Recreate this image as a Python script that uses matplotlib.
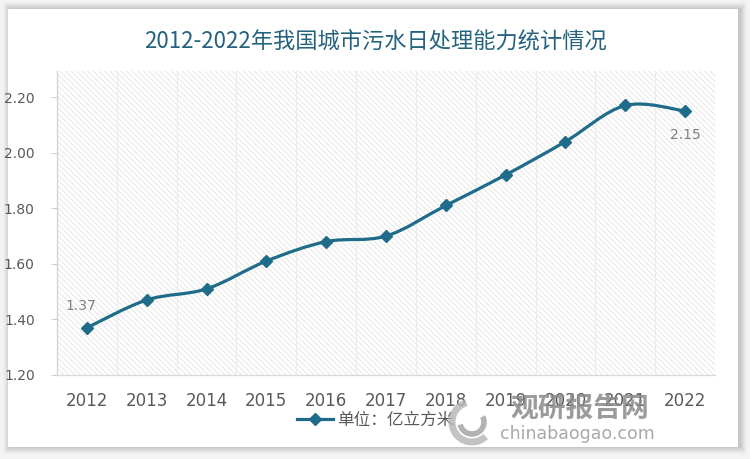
import numpy as np
import matplotlib
matplotlib.use("Agg")
import matplotlib.pyplot as plt
from matplotlib.path import Path
from matplotlib.patches import PathPatch, Rectangle, Arc
from matplotlib.lines import Line2D

years = [2012, 2013, 2014, 2015, 2016, 2017, 2018, 2019, 2020, 2021, 2022]
capacity = [1.37, 1.47, 1.51, 1.61, 1.68, 1.70, 1.81, 1.92, 2.04, 2.17, 2.15]
y_ticks = [1.20, 1.40, 1.60, 1.80, 2.00, 2.20]
title = "2012-2022年我国城市污水日处理能力统计情况"
legend_label = "单位：亿立方米"

line_color = "#1f6b8a"
cjk = ["Noto Sans CJK SC", "DejaVu Sans"]
plt.rcParams["font.family"] = cjk
plt.rcParams["hatch.linewidth"] = 0.6

W, H = 750, 459
fig = plt.figure(figsize=(7.5, 4.59), dpi=100, facecolor="#f3f3f3")

# card with soft shadow
x0, y0, x1, y1 = 8, 9, 738, 447
for k, a in zip(range(7, 0, -1), [0.03, 0.04, 0.05, 0.06, 0.07, 0.08, 0.09]):
    fig.patches.append(Rectangle(((x0 - k + 2) / W, 1 - (y1 + k) / H),
                                 (x1 - x0 + 2 * k) / W, (y1 - y0 + 2 * k) / H,
                                 transform=fig.transFigure, facecolor="#808080",
                                 alpha=a, lw=0, zorder=-3))
fig.patches.append(Rectangle((x0 / W, 1 - y1 / H), (x1 - x0) / W, (y1 - y0) / H,
                             transform=fig.transFigure, facecolor="white",
                             lw=0, zorder=-2))

ax = fig.add_axes([57 / W, 1 - 375 / H, (715 - 57) / W, (375 - 71) / H])
ax.set_facecolor("none")
ax.add_patch(Rectangle((0, 0), 1, 1, transform=ax.transAxes, facecolor="white",
                       edgecolor="#e3e3e3", hatch="\\\\\\\\\\\\", lw=0, zorder=0))

ax.set_xlim(2011.5, 2022.5)
ax.set_ylim(1.2, 2.294)

# smoothed line (Bezier through the data points)
pts = np.column_stack([years, capacity]).astype(float)
n = len(pts)
verts = [pts[0]]
codes = [Path.MOVETO]
for i in range(n - 1):
    p_prev = pts[i - 1] if i > 0 else pts[i]
    p_next2 = pts[i + 2] if i + 2 < n else pts[i + 1]
    c1 = pts[i] + (pts[i + 1] - p_prev) / 6
    c2 = pts[i + 1] - (p_next2 - pts[i]) / 6
    verts += [c1, c2, pts[i + 1]]
    codes += [Path.CURVE4] * 3
ax.add_patch(PathPatch(Path(verts, codes), fill=False, edgecolor=line_color,
                       lw=2.3, transform=ax.transData, zorder=3,
                       capstyle="round", joinstyle="round"))
ax.plot(years, capacity, linestyle="none", marker="D", markersize=6,
        color=line_color, zorder=4)

ax.annotate(f"{capacity[0]:.2f}", (years[0], capacity[0]), xytext=(-6, 22),
            textcoords="offset pixels", ha="center", va="center",
            fontsize=10, color="#7f7f7f", family="DejaVu Sans")
ax.annotate(f"{capacity[-1]:.2f}", (years[-1], capacity[-1]), xytext=(0, -24),
            textcoords="offset pixels", ha="center", va="center",
            fontsize=10, color="#7f7f7f", family="DejaVu Sans")

ax.set_xticks(years)
ax.set_xticklabels([str(y) for y in years])
ax.set_xticks(np.arange(2011.5, 2023, 1), minor=True)
ax.tick_params(axis="x", which="both", length=0, pad=12, labelsize=12,
               labelcolor="#595959")
ax.grid(axis="x", which="minor", color="#ebebeb", lw=0.8)
ax.set_yticks(y_ticks)
ax.set_yticklabels([f"{v:.2f}" for v in y_ticks])
ax.tick_params(axis="y", length=4, width=0.8, color="#d0d0d0", pad=12,
               labelsize=10, labelcolor="#595959")
for lab in ax.get_xticklabels() + ax.get_yticklabels():
    lab.set_family("DejaVu Sans")

for s in ["top", "right"]:
    ax.spines[s].set_visible(False)
ax.spines["left"].set_color("#d0d0d0")
ax.spines["bottom"].set_color("#d9d9d9")
ax.spines["left"].set_linewidth(0.9)
ax.spines["bottom"].set_linewidth(0.9)

fig.text(0.5, 1 - 41 / H, title, ha="center", va="center", fontsize=16,
         color="#24627d", family=cjk)

handle = Line2D([], [], color=line_color, lw=2.3, marker="D", markersize=6)
fig.legend([handle], [legend_label], loc="center", bbox_to_anchor=(375 / W, 1 - 420 / H),
           frameon=False, handlelength=2.2, handletextpad=0.2,
           labelcolor="#595959", prop={"family": cjk, "size": 12})

# watermark
fig.text(580 / W, 1 - 409 / H, "观研报告网", ha="center", va="center",
         fontsize=20, fontweight="bold", color="#8a8a8a", alpha=0.85,
         family=cjk, zorder=10)
fig.text(577 / W, 1 - 434 / H, "chinabaogao.com", ha="center", va="center",
         fontsize=12.5, color="#9a9a9a", alpha=0.85, family="DejaVu Sans", zorder=10)
for r, t1, t2, c, w in [(20, 100, 300, "#b5b5b5", 5), (12, 200, 40, "#a0a0a0", 4)]:
    fig.patches.append(Arc((472 / W, 1 - 422 / H), 2 * r / W, 2 * r / H,
                           theta1=t1, theta2=t2, transform=fig.transFigure,
                           color=c, lw=w, alpha=0.8, zorder=10))

fig.savefig("out.png", dpi=100, facecolor=fig.get_facecolor())
